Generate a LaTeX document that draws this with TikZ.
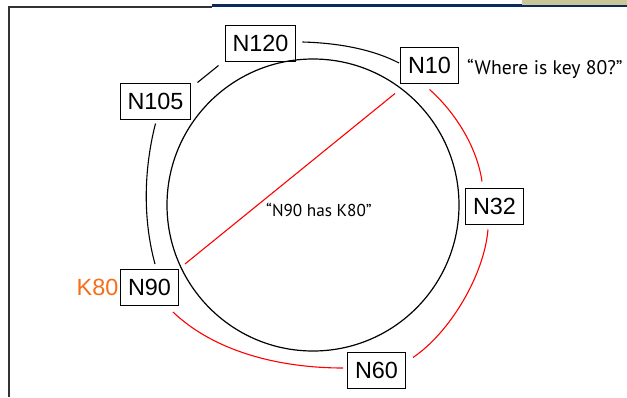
\documentclass[tikz,border=0pt]{standalone}
\usepackage{fontspec}
\setmainfont{Liberation Sans}
\newfontfamily\notefont{PT Sans}
\definecolor{keyorange}{RGB}{245,110,25}
\definecolor{barnavy}{RGB}{12,42,92}
\definecolor{barkhaki}{RGB}{204,199,150}
\begin{document}
\begin{tikzpicture}[x=1pt,y=-1pt,
  peer/.style={draw, line width=1pt, inner xsep=7.5pt, inner ysep=0pt,
    minimum height=36pt, font=\fontsize{23.4}{28}\selectfont},
  ring/.style={line width=1.1pt},
  lookup/.style={line width=1.1pt, red},
  note/.style={inner sep=0pt, font=\notefont\fontsize{19.7}{23}\selectfont}]
\useasboundingbox (0,0) rectangle (627,397);
% page frame
\draw[line width=1.5pt, black!80] (9,397) -- (9,7) -- (212,7);
\fill[barnavy] (212,3.5) rectangle (627,7);
\fill[barkhaki] (522,0) rectangle (627,4.5);
% identifier circle
\draw[line width=1.2pt] (313,205) circle[radius=146];
% peers
\node[peer] (n120) at (260.5,43) {N120};
\node[peer] (n10) at (429.5,65) {N10};
\node[peer] (n105) at (155.5,101) {N105};
\node[peer] (n32) at (494.5,206) {N32};
\node[peer] (n60) at (376.5,370) {N60};
\node[peer] (n90) at (149.5,287.5) {N90};
\node[anchor=east, inner sep=0pt, text=keyorange, font=\fontsize{23.4}{28}\selectfont]
  (k80) at ([shift={(-1.5,0)}]n90.west) {K80};
% annotations
\node[note, anchor=base west] (ask) at (467,74) {“Where is key 80?”};
\node[note, anchor=base west, font=\notefont\fontsize{17.2}{20}\selectfont] (ans) at (266,216.7) {“N90 has K80”};
% successor links
\draw[ring] ([shift={(6,-1)}]n120.east) .. controls +(38,1) and +(-25,-13) .. ([shift={(-1,-2)}]n10.west);
\draw[ring] ([shift={(-6,4)}]n120.south west) -- ([shift={(6,0)}]n105.north east);
\draw[ring] ([shift={(0,4)}]n105.south) .. controls +(-12,47) and +(-12,-44) .. ([shift={(5.5,-5)}]n90.north);
% lookup path
\draw[lookup] ([shift={(0,6)}]n10.south) .. controls +(25,22) and +(-5,-35) .. ([shift={(-12.5,-6)}]n32.north);
\draw[lookup] ([shift={(-6.5,5)}]n32.south) .. controls +(-4,46) and +(37,-25) .. ([shift={(7,6)}]n60.north east);
\draw[lookup] ([shift={(-4,-2)}]n60.west) .. controls +(-63,0) and +(42,40) .. ([shift={(-6,6)}]n90.south east);
\draw[lookup] ([shift={(-34.5,10)}]n10.south) -- ([shift={(6,-5)}]n90.north east);
\end{tikzpicture}
\end{document}
